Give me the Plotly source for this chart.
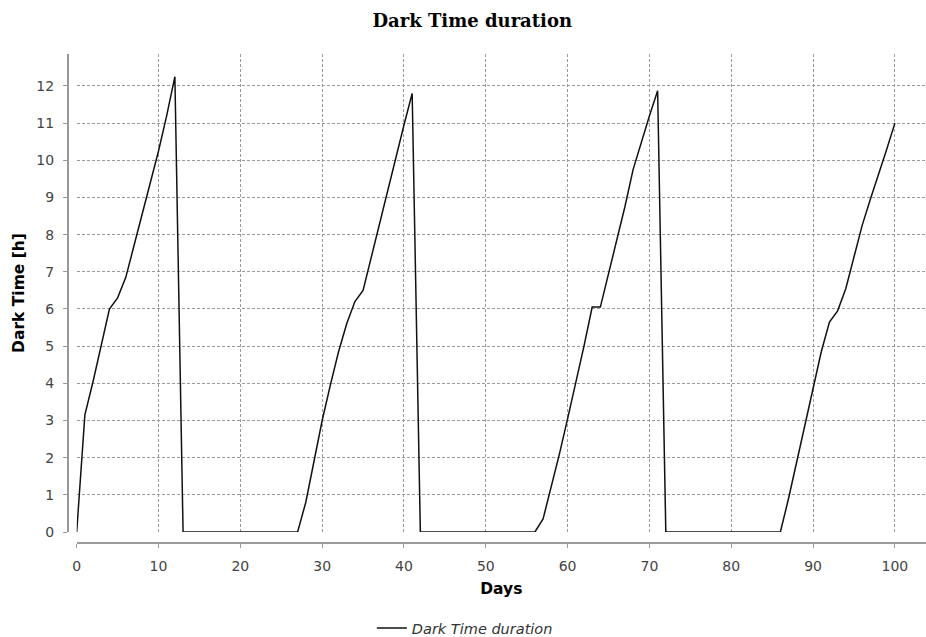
import plotly.graph_objects as go

days = list(range(0, 101))

cycle1 = [0.0, 3.15, 4.05, 5.0, 6.0, 6.3, 6.85, 7.7, 8.55, 9.4, 10.25, 11.2, 12.25]
gap1 = [0.0] * 15                      # days 13..27
cycle2 = [0.8, 1.9, 3.0, 3.95, 4.85, 5.6, 6.2, 6.5, 7.4, 8.3, 9.15, 10.05, 10.95, 11.8]  # days 28..41
gap2 = [0.0] * 15                      # days 42..56
cycle3 = [0.35, 1.2, 2.1, 3.05, 4.0, 5.0, 6.05, 6.05, 6.95, 7.85, 8.75, 9.75, 10.5, 11.2, 11.87]  # days 57..71
gap3 = [0.0] * 15                      # days 72..86
cycle4 = [0.9, 1.9, 2.85, 3.9, 4.85, 5.65, 5.95, 6.55, 7.4, 8.25, 8.95, 9.6, 10.3, 11.0]  # days 87..100

dark_hours = cycle1 + gap1 + cycle2 + gap2 + cycle3 + gap3 + cycle4

x_ticks = [0, 10, 20, 30, 40, 50, 60, 70, 80, 90, 100]
y_ticks = list(range(0, 13))

fig = go.Figure()
fig.add_trace(go.Scatter(
    x=days, y=dark_hours, mode="lines", name="Dark Time duration",
    line=dict(color="#111111", width=1.5),
))

W, H = 926, 637
ml, mr, mt, mb = 68, 0, 54, 94
pw = W - ml - mr
ph = H - mt - mb

SANS = "DejaVu Sans, Verdana, sans-serif"

grid = dict(showgrid=True, gridcolor="#9a9a9a", gridwidth=1, griddash="3px,2px",
            zeroline=False, showline=True, linecolor="#9a9a9a", linewidth=2,
            ticks="outside", ticklen=4, tickcolor="#9a9a9a", tickwidth=1, automargin=False,
            tickfont=dict(family=SANS, size=14, color="#444444"))

fig.update_layout(
    width=W, height=H,
    margin=dict(l=ml, r=mr, t=mt, b=mb, autoexpand=False),
    paper_bgcolor="white", plot_bgcolor="white",
    title=dict(text="<b>Dark Time duration</b>", x=0.51, xanchor="center", xref="container",
               y=1 - 21 / H, yanchor="middle", automargin=False,
               font=dict(family="DejaVu Serif, serif", size=18, color="#000000")),
    xaxis=dict(range=[0, 103.8], domain=[8.7 / pw, 1], anchor="free", position=0,
               tickvals=x_ticks, ticklabelstandoff=6,
               title=dict(text="<b>Days</b>", standoff=9,
                          font=dict(family=SANS, size=15.5, color="#000000")),
               **grid),
    yaxis=dict(range=[0, 12.86], domain=[11 / ph, 1], anchor="free", position=0,
               tickvals=y_ticks, ticklabelstandoff=6,
               title=dict(text="<b>Dark Time [h]</b>", standoff=7,
                          font=dict(family=SANS, size=15.5, color="#000000")),
               **grid),
    showlegend=True,
    legend=dict(orientation="h", x=0.502, xanchor="center", xref="container",
                y=9 / H, yanchor="middle", yref="container",
                font=dict(family=SANS, size=14.5, color="#333333", style="italic"),
                itemwidth=30),
)

fig.write_html("out.html", config={"displayModeBar": False},
               post_script="document.body.style.margin='0';document.body.style.overflow='hidden';")
